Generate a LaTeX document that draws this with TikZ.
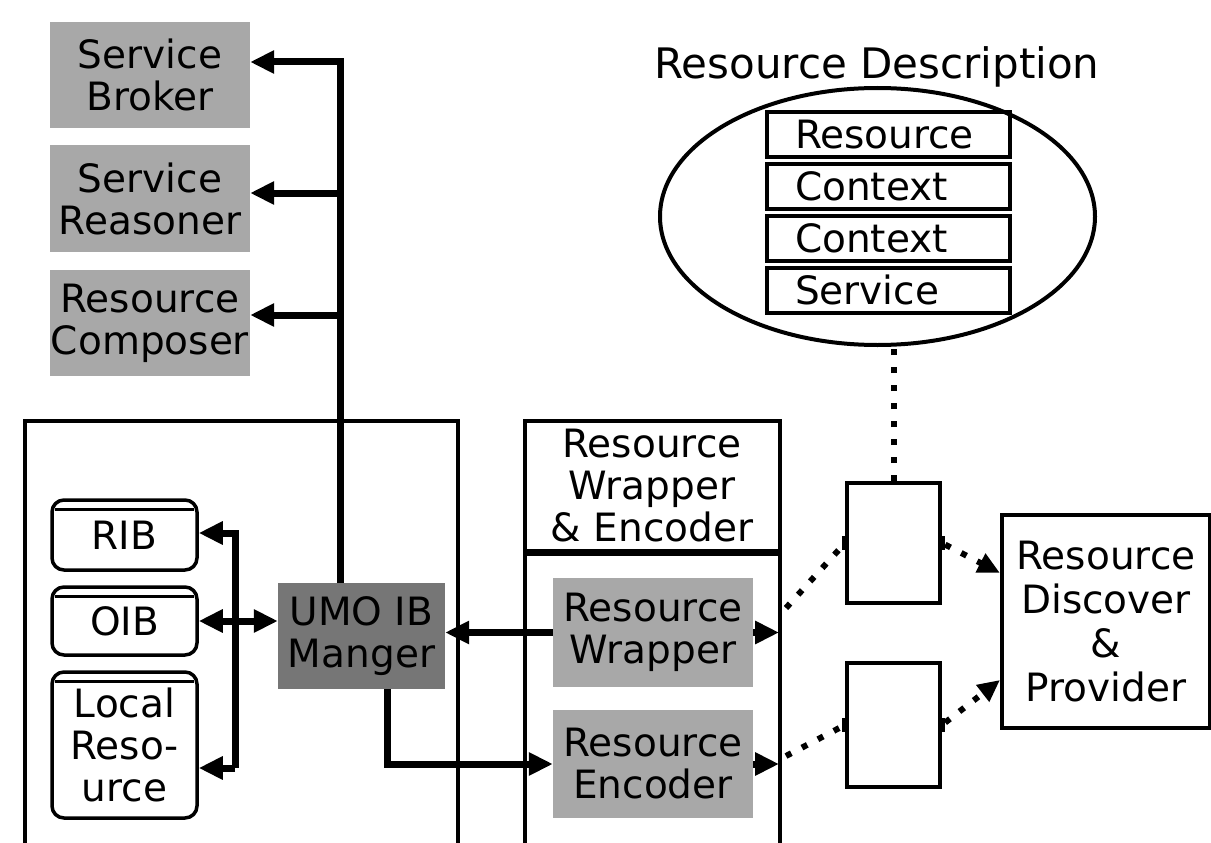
\documentclass[tikz,border=0pt]{standalone}
\usepackage{fontspec}
\setmainfont{DejaVu Sans}
\usetikzlibrary{arrows.meta,shapes.geometric}
\definecolor{lgray}{RGB}{168,168,168}
\definecolor{dgray}{RGB}{118,118,118}
\begin{document}
\begin{tikzpicture}[x=1pt,y=-1pt,
  txt/.style={font=\fontsize{39}{42}\selectfont, align=center, inner sep=0pt},
  gbox/.style={txt, fill=lgray, minimum width=200pt},
  dbox/.style={txt, fill=dgray, minimum width=167pt, minimum height=106pt},
  cyl/.style={txt, draw, line width=3.5pt, rounded corners=12pt, minimum width=145pt},
  wbox/.style={draw, line width=4pt, inner sep=0pt},
  rowbox/.style={txt, draw, line width=4pt, minimum height=45pt, text width=187pt, inner xsep=28pt, inner ysep=0pt, align=left},
  port/.style={fill=black, minimum width=6pt, minimum height=14pt, inner sep=0pt},
  thk/.style={line width=7pt},
  arr/.style={line width=7pt, -{Triangle[length=24pt,width=22pt]}},
  darr/.style={line width=7pt, {Triangle[length=24pt,width=22pt]}-{Triangle[length=24pt,width=22pt]}},
  dots/.style={line width=6pt, dash pattern=on 6pt off 12pt},
  cont/.style={line width=4pt}
]
\useasboundingbox (0,0) rectangle (1211,843);

% top-left gray boxes
\node[gbox, minimum height=106pt] (sb) at (150,75) {Service\\Broker};
\node[gbox, minimum height=107pt] (sr) at (150,198.5) {Service\\Reasoner};
\node[gbox, minimum height=106pt] (rc) at (150,323) {Resource\\Composer};

% left container
\draw[cont] (25,843) -- (25,421) -- (458,421) -- (458,843);

% cylinders
\node[cyl, minimum height=70pt] (rib) at (124.5,535) {RIB};
\node[cyl, minimum height=68pt] (oib) at (124.5,621) {OIB};
\node[cyl, minimum height=146pt] (lr) at (124.5,745) {Local\\Reso-\\urce};
\foreach \c in {rib,oib,lr}
  \draw[line width=2.5pt] ([xshift=5pt,yshift=-11pt]\c.north west) -- ([xshift=-5pt,yshift=-11pt]\c.north east);

% UMO IB manager
\node[dbox] (umo) at (361.5,636) {UMO IB\\Manger};

% trunk to service boxes
\coordinate (tx) at (340,0);
\coordinate (t1) at (340,62);
\coordinate (t2) at (340,193);
\coordinate (t3) at (340,315);
\draw[arr] (umo.north -| tx) -- (t1) -- (t1 -| sb.east);
\draw[arr] (t2) -- (t2 -| sr.east);
\draw[arr] (t3) -- (t3 -| rc.east);

% bus to cylinders
\coordinate (b1) at (235,533);
\coordinate (b3) at (235,768);
\draw[arr] (b3) -- (b1) -- (b1 -| rib.east);
\draw[arr] (b3) -- (b3 -| lr.east);
\draw[darr] (oib.east) -- (oib.east -| umo.west);

% wrapper & encoder container
\draw[cont] (525,843) -- (525,421) -- (780,421) -- (780,843);
\draw[thk] (525,552) -- (780,552);
\node[txt] (rwe) at (652,486) {Resource\\Wrapper\\\& Encoder};
\node[gbox, minimum height=109pt] (rw) at (653,632.5) {Resource\\Wrapper};
\node[gbox, minimum height=108pt] (re) at (653,764) {Resource\\Encoder};

\draw[arr] (rw.west) -- (rw.west -| umo.east);
\coordinate (u1) at (387,0);
\draw[arr] (umo.south -| u1) |- (re.west);

\coordinate (c2r) at (779,0);
\draw[arr] (rw.east) -- (rw.east -| c2r);
\draw[arr] (re.east) -- (re.east -| c2r);

% small boxes
\node[wbox, minimum width=93pt, minimum height=120pt] (box1) at (893.5,543) {};
\node[wbox, minimum width=93pt, minimum height=124pt] (box2) at (893.5,725) {};
\node[port] (b1l) at (box1.west) {};
\node[port] (b1r) at (box1.east) {};
\node[port] (b2l) at (box2.west) {};
\node[port] (b2r) at (box2.east) {};

% resource discover & provider
\node[wbox, txt, minimum width=208pt, minimum height=213pt, line width=4pt] (disc) at (1106,621.5) {Resource\\[2pt]Discover\\[2pt]\&\\[2pt]Provider};

\coordinate (d1) at (786,608);
\coordinate (d2) at (786,756);
\draw[dots] (d1) -- (b1l);
\draw[dots] (d2) -- (b2l);
\draw[dots, -{Triangle[length=22pt,width=20pt]}] (b1r) -- ([yshift=-30pt]disc.west |- b1r) ;
\draw[dots, -{Triangle[length=22pt,width=20pt]}] (b2r) -- ([yshift=45pt]disc.west |- b2r);

% resource description
\node[txt, font=\fontsize{42}{44}\selectfont, anchor=base] (title) at (877,78) {Resource Description};
\node[ellipse, draw, line width=4pt, minimum width=435pt, minimum height=257pt, inner sep=0pt] (ell) at (877.5,216.5) {};
\node[rowbox] (r1) at (888.5,134.5) {Resource};
\node[rowbox] (r2) at (888.5,186) {Context};
\node[rowbox] (r3) at (888.5,238) {Context};
\node[rowbox] (r4) at (888.5,290) {Service};
\draw[dots] (box1.north) -- (box1.north |- ell.south);
\end{tikzpicture}
\end{document}
